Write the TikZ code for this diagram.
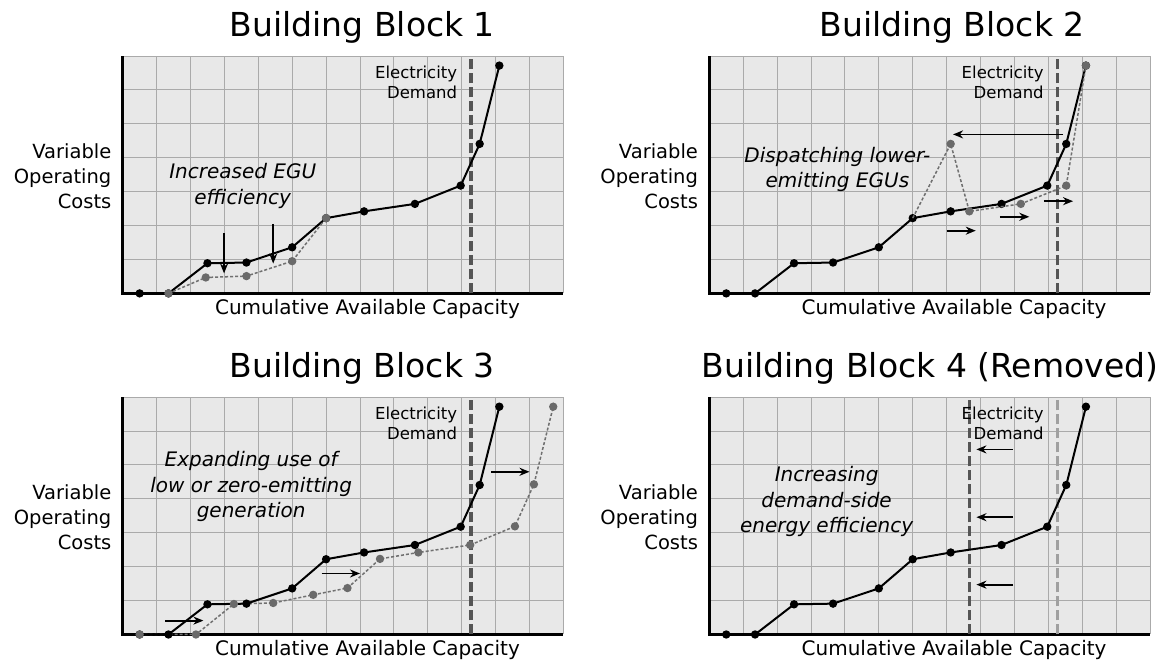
\documentclass[tikz,border=0pt]{standalone}
\usepackage{fontspec}
\setmainfont{DejaVu Sans}
\usetikzlibrary{arrows.meta}
\definecolor{bgc}{HTML}{E8E8E8}
\definecolor{gridc}{HTML}{AAAAAA}
\definecolor{dashc}{HTML}{707070}
\definecolor{dotc}{HTML}{6A6A6A}
\definecolor{demc}{HTML}{555555}
\definecolor{demlight}{HTML}{A0A0A0}
\tikzset{
  curve/.style={line width=2pt, black, line join=round},
  alt/.style={line width=1.5pt, dashc, dash pattern=on 3pt off 2pt, line join=round},
  demand/.style={line width=3.5pt, demc, dash pattern=on 10pt off 4pt},
  demandold/.style={line width=3.5pt, demlight, dash pattern=on 10pt off 4pt},
  arr/.style={line width=1.8pt, black, -{Stealth[length=10pt,width=8pt]}},
  title/.style={font=\fontsize{33}{40}\selectfont, anchor=base, inner sep=0pt},
  ylab/.style={font=\fontsize{19.5}{25}\selectfont, align=right, anchor=north east, inner sep=0pt},
  xlab/.style={font=\fontsize{20}{24}\selectfont, anchor=base, inner sep=0pt},
  demlab/.style={font=\fontsize{16.5}{20}\selectfont, align=right, anchor=north east, inner sep=0pt},
  note/.style={font=\fontsize{20}{25.5}\selectfont\itshape, align=center, anchor=north, inner sep=0pt},
  panel/.style={x=33.9pt, y=33.9pt},
  gridline/.style={gridc, line width=1pt},
}
\newcommand{\panelbase}{%
  \fill[bgc] (0,0) rectangle (13,7);
  \foreach \i in {1,...,13} {\draw[gridline] (\i,0) -- (\i,7);}
  \foreach \j in {1,...,7} {\draw[gridline] (0,\j) -- (13,\j);}
  \draw[black, line width=3pt] (0,7) -- (0,0) -- (13,0);
}
\newcommand{\mainline}{%
  \draw[curve] (0.5,0) -- (1.35,0) -- (2.5,0.89) -- (3.65,0.91) -- (5.0,1.36) -- (6.0,2.22) -- (7.12,2.42) -- (8.62,2.64) -- (9.97,3.18) -- (10.53,4.41) -- (11.11,6.72);
  \foreach \x/\y in {0.5/0,1.35/0,2.5/0.89,3.65/0.91,5.0/1.36,6.0/2.22,7.12/2.42,8.62/2.64,9.97/3.18,10.53/4.41,11.11/6.72}
    {\fill[black] (\x,\y) circle (4.2pt);}
}
\newcommand{\panellabels}{%
  \node[ylab] (ylabel) at (-0.33,4.42) {Variable\\Operating\\Costs};
  \node[xlab] (xlabel) at (7.22,-0.61) {Cumulative Available Capacity};
  \node[demlab] (demlabel) at (9.87,6.71) {Electricity\\Demand};
}
\begin{document}
\begin{tikzpicture}[x=1pt,y=1pt]
\useasboundingbox (0,0) rectangle (1172,661);
\fill[white] (0,0) rectangle (1172,661);

% ---------- Panel 1 ----------
\begin{scope}[shift={(122.7pt,367.6pt)}, panel]
  \panelbase
  \draw[demand] (10.28,0) -- (10.28,7);
  \mainline
  \draw[alt] (1.35,0) -- (2.45,0.47) -- (3.65,0.51) -- (5.0,0.95) -- (6.0,2.22);
  \foreach \x/\y in {1.35/0,2.45/0.47,3.65/0.51,5.0/0.95,6.0/2.22}
    {\fill[dotc] (\x,\y) circle (4.2pt);}
  \draw[arr] (2.99,1.77) -- (2.99,0.59);
  \draw[arr] (4.44,2.05) -- (4.44,0.88);
  \panellabels
  \node[note] (note1) at (3.54,3.84) {Increased EGU\\efficiency};
  \node[title] (title1) at (7.07,7.57) {Building Block 1};
\end{scope}

% ---------- Panel 2 ----------
\begin{scope}[shift={(709.3pt,367.6pt)}, panel]
  \panelbase
  \draw[demand] (10.27,0) -- (10.27,7);
  \mainline
  \draw[alt] (6.0,2.22) -- (7.12,4.41) -- (7.67,2.42) -- (9.19,2.64) -- (10.53,3.18) -- (11.11,6.72);
  \foreach \x/\y in {7.12/4.41,7.67/2.42,9.19/2.64,10.53/3.18,11.11/6.72}
    {\fill[dotc] (\x,\y) circle (4.2pt);}
  \draw[arr] (10.44,4.69) -- (7.19,4.69);
  \draw[arr] (7.0,1.85) -- (7.86,1.85);
  \draw[arr] (8.57,2.26) -- (9.44,2.26);
  \draw[arr] (9.87,2.72) -- (10.73,2.72);
  \panellabels
  \node[note] (note2) at (3.78,4.33) {Dispatching lower-\\emitting EGUs};
  \node[title] (title2) at (7.16,7.57) {Building Block 2};
\end{scope}

% ---------- Panel 3 ----------
\begin{scope}[shift={(122.7pt,26.5pt)}, panel]
  \panelbase
  \draw[demand] (10.28,0) -- (10.28,7);
  \draw[alt] (0.5,0) -- (2.16,0) -- (3.28,0.90) -- (4.44,0.93) -- (5.62,1.17) -- (6.63,1.37) -- (7.59,2.23) -- (8.72,2.42) -- (10.25,2.64) -- (11.57,3.19) -- (12.13,4.43) -- (12.70,6.72);
  \mainline
  \foreach \x/\y in {0.5/0,2.16/0,3.28/0.90,4.44/0.93,5.62/1.17,6.63/1.37,7.59/2.23,8.72/2.42,10.25/2.64,11.57/3.19,12.13/4.43,12.70/6.72}
    {\fill[dotc] (\x,\y) circle (4.2pt);}
  \draw[arr] (1.25,0.41) -- (2.38,0.41);
  \draw[arr] (5.87,1.80) -- (7.0,1.80);
  \draw[arr] (10.87,4.80) -- (12.0,4.80);
  \panellabels
  \node[note] (note3) at (3.79,5.40) {Expanding use of\\low or zero-emitting\\generation};
  \node[title] (title3) at (7.06,7.57) {Building Block 3};
\end{scope}

% ---------- Panel 4 ----------
\begin{scope}[shift={(709.3pt,26.5pt)}, panel]
  \panelbase
  \draw[demandold] (10.27,0) -- (10.27,7);
  \draw[demand] (7.67,0) -- (7.67,7);
  \mainline
  \draw[arr] (8.96,5.46) -- (7.88,5.46);
  \draw[arr] (8.96,3.46) -- (7.88,3.46);
  \draw[arr] (8.96,1.47) -- (7.88,1.47);
  \panellabels
  \node[note] (note4) at (3.46,4.96) {Increasing\\demand-side\\energy efficiency};
  \node[title] (title4) at (6.51,7.57) {Building Block 4 (Removed)};
\end{scope}
\end{tikzpicture}
\end{document}
